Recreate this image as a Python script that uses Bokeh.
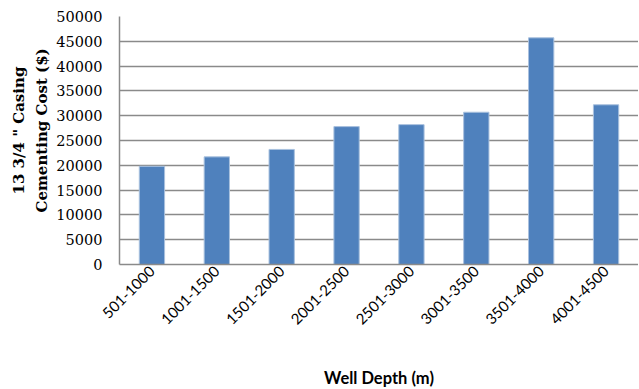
import math
from bokeh.plotting import figure
from bokeh.models import FactorRange, Range1d, FixedTicker, ColumnDataSource, Title
from bokeh.embed import file_html
from bokeh.resources import INLINE

categories = ["501-1000", "1001-1500", "1501-2000", "2001-2500",
              "2501-3000", "3001-3500", "3501-4000", "4001-4500"]
costs = [19800, 21700, 23200, 27800, 28200, 30700, 45700, 32200]
y_ticks = [0, 5000, 10000, 15000, 20000, 25000, 30000, 35000, 40000, 45000, 50000]
y_title = ["13 3/4 \" Casing", "Cementing Cost ($)"]
x_title = "Well Depth (m)"

source = ColumnDataSource(data=dict(cat=categories, cost=costs))

p = figure(x_range=FactorRange(*categories), y_range=Range1d(0, 50000),
           frame_width=519, frame_height=248,
           output_backend="svg", toolbar_location=None,
           min_border_left=119, min_border_top=16, min_border_right=0, min_border_bottom=0)
p.x_range.range_padding = 0.0

p.vbar(x="cat", top="cost", width=0.39, source=source,
       fill_color="#4F81BD", line_color="#A9C1DE", line_width=1)

p.outline_line_color = None
p.background_fill_color = "white"
p.border_fill_color = "white"

p.xgrid.grid_line_color = None
p.ygrid.grid_line_color = "#8A8A8A"
p.ygrid.grid_line_width = 1.5
p.yaxis.ticker = FixedTicker(ticks=y_ticks)

p.yaxis.axis_line_color = "#8A8A8A"
p.yaxis.axis_line_width = 1.5
p.yaxis.major_tick_line_color = None
p.yaxis.minor_tick_line_color = None
p.yaxis.major_tick_out = 0
p.yaxis.major_tick_in = 0
p.yaxis.major_label_standoff = 17
p.yaxis.major_label_text_font = "DejaVu Serif"
p.yaxis.major_label_text_font_size = "14.5px"
p.yaxis.major_label_text_color = "#000000"

for txt, off, so in [(y_title[1], 52, 6), (y_title[0], 70, 0)]:
    p.add_layout(Title(text=txt, align="left", offset=off,
                       text_font="DejaVu Serif", text_font_style="bold",
                       text_font_size="15px", text_color="#000000",
                       standoff=so, text_line_height=1.0), "left")

p.xaxis.axis_line_color = "#8A8A8A"
p.xaxis.axis_line_width = 1.5
p.xaxis.major_tick_line_color = None
p.xaxis.minor_tick_line_color = None
p.xaxis.major_tick_out = 0
p.xaxis.major_tick_in = 0
p.xaxis.major_label_orientation = math.pi / 4
p.xaxis.major_label_standoff = 4
p.xaxis.major_label_text_font = "Lato"
p.xaxis.major_label_text_font_size = "15px"
p.xaxis.major_label_text_color = "#000000"
p.xaxis.axis_label = x_title
p.xaxis.axis_label_text_font = "Lato"
p.xaxis.axis_label_text_font_style = "bold"
p.xaxis.axis_label_text_font_size = "16.5px"
p.xaxis.axis_label_text_color = "#000000"
p.xaxis.axis_label_standoff = 36

open("out.html", "w").write(file_html(p, INLINE))
